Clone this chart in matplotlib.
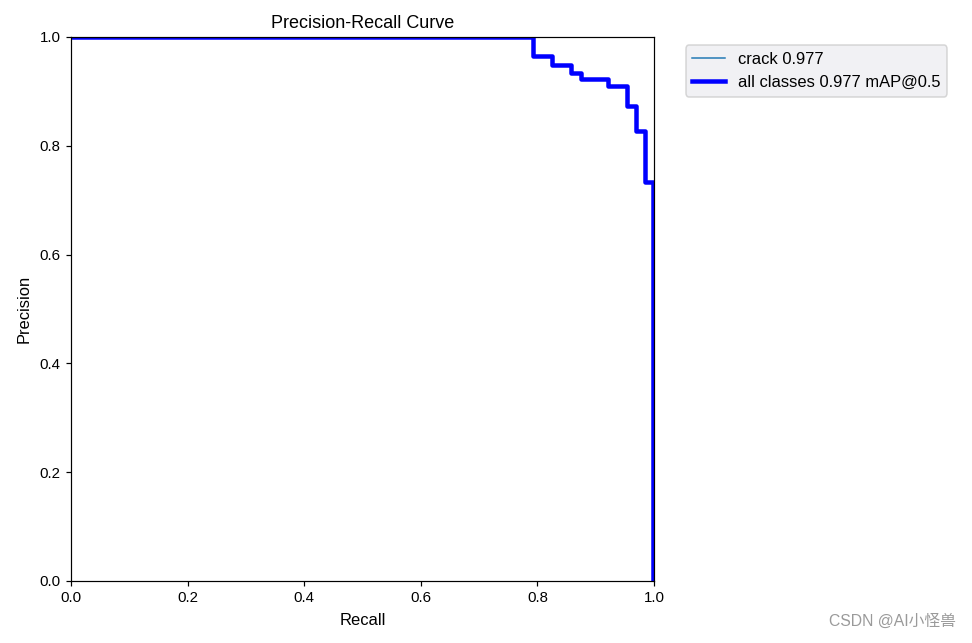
import matplotlib
matplotlib.use("Agg")
import matplotlib.pyplot as plt

plt.rcParams['font.family'] = ['Liberation Sans', 'DejaVu Sans']

# step points
recall = [0.0, 0.792, 0.825, 0.857, 0.875, 0.921, 0.954, 0.969, 0.985, 0.999]
precision = [1.0, 0.965, 0.948, 0.933, 0.923, 0.910, 0.873, 0.827, 0.734, 0.0]
class_label = "crack 0.977"
all_label = "all classes 0.977 mAP@0.5"

fig = plt.figure(figsize=(9, 643 / 108), dpi=108)
ax = fig.add_axes([71 / 972, 1 - 581 / 643, 583 / 972, 544 / 643])

ax.plot(recall, precision, drawstyle="steps-post", linewidth=1, color="tab:blue", label=class_label)
ax.plot(recall, precision, drawstyle="steps-post", linewidth=3, color="blue", label=all_label)

ax.set_xlim(0, 1)
ax.set_ylim(0, 1)
ax.set_xlabel("Recall", fontsize=11, labelpad=5)
ax.set_ylabel("Precision", fontsize=11, labelpad=5)
ax.set_title("Precision-Recall Curve", fontsize=12)
leg = ax.legend(bbox_to_anchor=(1.04, 1), loc="upper left", facecolor="#eeeef2", fontsize=11)

fig.text(0.983, 0.022, "CSDN @AI小怪兽", ha="right", va="bottom", fontsize=10.5,
         color="#9a9a9a", family=["Liberation Sans", "Noto Sans CJK SC"])

fig.savefig("out.png", dpi=108)
